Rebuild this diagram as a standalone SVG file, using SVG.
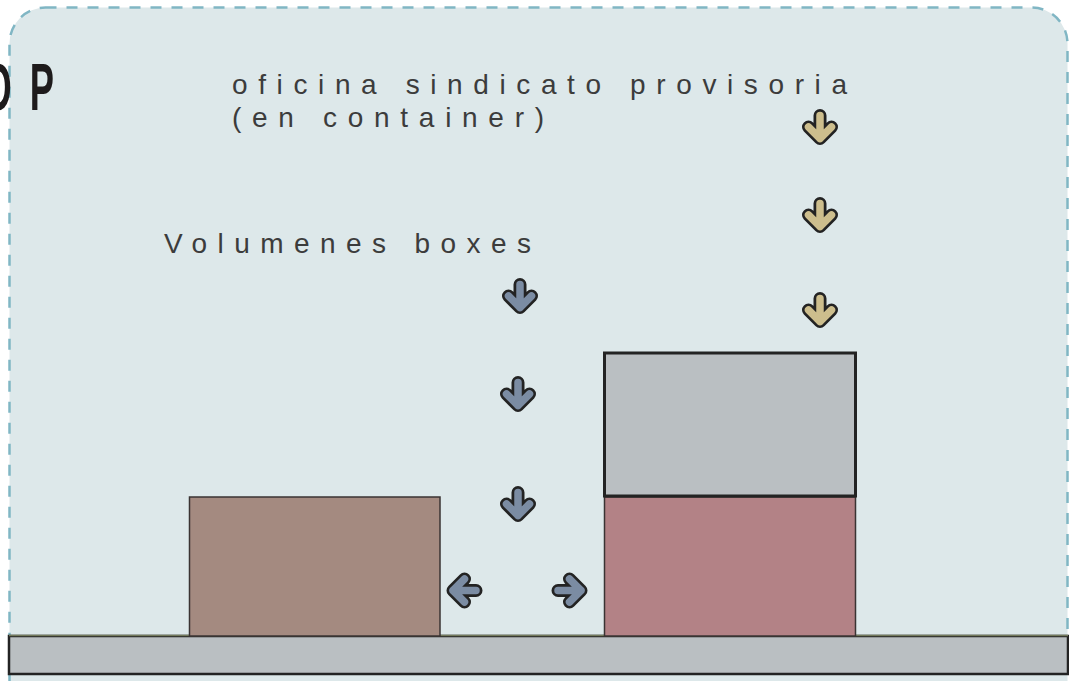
<svg xmlns="http://www.w3.org/2000/svg" xmlns:xlink="http://www.w3.org/1999/xlink" width="1069" height="681" viewBox="0 0 1069 681">
<style>
.lbl{font-family:"Liberation Sans",Arial,sans-serif;font-size:28px;fill:#3c3c3c;}
.big{font-family:"Liberation Sans",Arial,sans-serif;font-weight:bold;font-size:66px;fill:#1e1b1c;}
.frame{fill:#dde8ea;stroke:#80b6c4;stroke-width:2.5;stroke-dasharray:11 10;}
.aout{fill:none;stroke:#232323;stroke-width:13;stroke-linecap:round;stroke-linejoin:round;}
.ain{fill:none;stroke:currentColor;stroke-width:7.5;stroke-linecap:round;stroke-linejoin:round;}
.blue{color:#7b8ca3;}
.tan{color:#cdbe8d;}
</style>
<defs>
<g id="arrowDown">
<path class="aout" d="M0,-11.5 V11.5 M-11.5,0 L0,11.5 L11.5,0"/>
<path class="ain" d="M0,-11.5 V11.5 M-11.5,0 L0,11.5 L11.5,0"/>
</g>
</defs>
<rect width="1069" height="681" fill="#ffffff"/>
<g id="frame">
<rect class="frame" x="9.5" y="7.5" width="1058" height="740" rx="36"/>
</g>
<g id="ground">
<rect x="9" y="636" width="1059" height="38" fill="#babfc2" stroke="#232323" stroke-width="2.5"/>
<line x1="9" y1="635.5" x2="1068" y2="635.5" stroke="#737a5c" stroke-width="1.5"/>
</g>
<g id="box-left">
<rect x="189.5" y="497" width="250.5" height="139" fill="#a48a80" stroke="#3a3333" stroke-width="1.5"/>
</g>
<g id="box-pink">
<rect x="604.5" y="497" width="251" height="139" fill="#b38286" stroke="#3a3333" stroke-width="1.5"/>
</g>
<g id="box-gray">
<rect x="604.5" y="353" width="251" height="143" fill="#babfc2" stroke="#232323" stroke-width="3"/>
</g>
<g id="connectors">
<use xlink:href="#arrowDown" class="tan" transform="translate(820,127)"/>
<use xlink:href="#arrowDown" class="tan" transform="translate(820,215)"/>
<use xlink:href="#arrowDown" class="tan" transform="translate(820,310)"/>
<use xlink:href="#arrowDown" class="blue" transform="translate(520,296)"/>
<use xlink:href="#arrowDown" class="blue" transform="translate(518,394)"/>
<use xlink:href="#arrowDown" class="blue" transform="translate(518,504)"/>
<use xlink:href="#arrowDown" class="blue" transform="translate(464.5,590.5) rotate(90)"/>
<use xlink:href="#arrowDown" class="blue" transform="translate(569.5,590.5) rotate(-90)"/>
</g>
<g id="label-oficina">
<text class="lbl" x="232" y="93.5" textLength="615" lengthAdjust="spacing">oficina sindicato provisoria</text>
<text class="lbl" x="232" y="126.5" textLength="312" lengthAdjust="spacing">(en container)</text>
</g>
<g id="label-volumenes">
<text class="lbl" x="164" y="253" textLength="367" lengthAdjust="spacing">Volumenes boxes</text>
</g>
<g id="title">
<text class="big" transform="translate(0,110) scale(0.55,1)"><tspan x="-30" y="0">O</tspan><tspan x="54" y="0">P</tspan></text>
</g>
</svg>
